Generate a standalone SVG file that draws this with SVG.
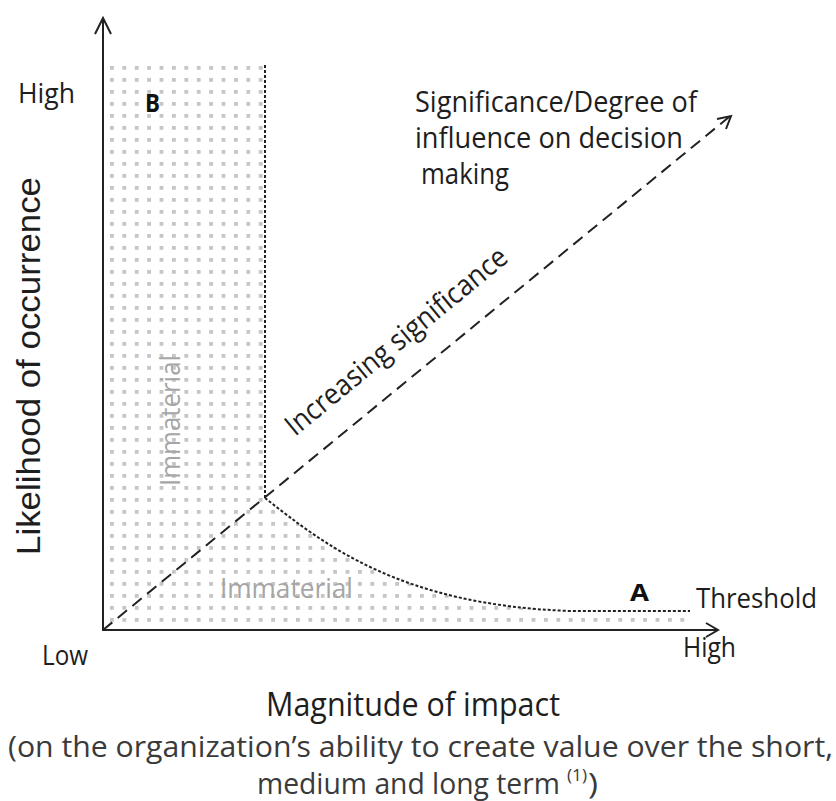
<svg xmlns="http://www.w3.org/2000/svg" width="836" height="801" viewBox="0 0 836 801">
<defs>
<pattern id="dots" patternUnits="userSpaceOnUse" x="110" y="66" width="12.4" height="12" >
<rect x="0" y="0" width="3.8" height="3.8" fill="#c6c6c6"/>
</pattern>
<style>
.lbl{font-family:"Open Sans","Liberation Sans",sans-serif;fill:#1e1e1e;}
.sub{font-family:"Open Sans","Liberation Sans",sans-serif;fill:#3a3a3a;}
.gray{font-family:"Open Sans","Liberation Sans",sans-serif;fill:#a6a6a6;}
.bold{font-family:"Open Sans","Liberation Sans",sans-serif;font-weight:bold;fill:#111;}
.axis{stroke:#222;stroke-width:2;fill:none;}
.dashL{stroke:#222;stroke-width:2;fill:none;stroke-dasharray:12 7;}
.dashS{stroke:#222;stroke-width:2;fill:none;stroke-dasharray:3 2;}
</style>
</defs>
<rect width="836" height="801" fill="#fff"/>

<g id="regions">
<rect x="104" y="65" width="161" height="564" fill="url(#dots)"/>
<path d="M265,498 C325,545 400,605 570,611 L690,611 L690,629 L265,629 Z" fill="url(#dots)"/>
</g>

<g id="connectors">
<line class="axis" x1="103" y1="631" x2="103" y2="18"/>
<polyline class="axis" points="95,34 103,18 111,34"/>
<line class="axis" x1="102" y1="630" x2="718" y2="630"/>
<polyline class="axis" points="706,623 718,630 706,637"/>
<line class="dashL" x1="103" y1="630" x2="729" y2="117"/>
<polyline class="axis" points="717,119 731,116 726,129"/>
<line class="dashS" x1="265" y1="65" x2="265" y2="498"/>
<path class="dashS" d="M265,498 C325,545 400,605 570,611 L690,611" stroke-width="1.7"/>
</g>

<g id="label-y-high"><text class="lbl" x="18" y="103" font-size="28" textLength="57" lengthAdjust="spacingAndGlyphs">High</text></g>
<g id="label-B"><text class="bold" x="145" y="112" font-size="25" textLength="15" lengthAdjust="spacingAndGlyphs">B</text></g>
<g id="label-significance">
<text class="lbl" x="415" y="112" font-size="29" textLength="282" lengthAdjust="spacingAndGlyphs">Significance/Degree of</text>
<text class="lbl" x="415" y="148" font-size="29" textLength="268" lengthAdjust="spacingAndGlyphs">influence on  decision</text>
<text class="lbl" x="421" y="184" font-size="29" textLength="88" lengthAdjust="spacingAndGlyphs">making</text>
</g>
<g id="label-increasing"><text class="lbl" transform="translate(295,437) rotate(-39.4)" x="0" y="0" font-size="29" textLength="278" lengthAdjust="spacingAndGlyphs">Increasing significance</text></g>
<g id="label-immaterial-v"><text class="gray" transform="translate(180,486) rotate(-90)" x="0" y="0" font-size="27" textLength="131" lengthAdjust="spacingAndGlyphs">Immaterial</text></g>
<g id="label-immaterial-h"><text class="gray" x="220" y="598" font-size="27" textLength="133" lengthAdjust="spacingAndGlyphs">Immaterial</text></g>
<g id="label-A"><text class="bold" x="630" y="601" font-size="24" textLength="19" lengthAdjust="spacingAndGlyphs">A</text></g>
<g id="label-threshold"><text class="lbl" x="696" y="608" font-size="28" textLength="121" lengthAdjust="spacingAndGlyphs">Threshold</text></g>
<g id="label-x-high"><text class="lbl" x="683" y="657" font-size="28" textLength="53" lengthAdjust="spacingAndGlyphs">High</text></g>
<g id="label-low"><text class="lbl" x="42" y="665" font-size="28" textLength="46" lengthAdjust="spacingAndGlyphs">Low</text></g>
<g id="label-y-axis"><text transform="translate(40,366) rotate(-90)" x="0" y="0" text-anchor="middle" font-family="Liberation Sans, Arial, sans-serif" font-size="33" fill="#1e1e1e" textLength="378" lengthAdjust="spacingAndGlyphs">Likelihood  of  occurrence</text></g>
<g id="label-x-axis">
<text class="lbl" x="266" y="716" font-size="33" textLength="294" lengthAdjust="spacingAndGlyphs">Magnitude  of impact</text>
<text class="sub" x="8" y="757" font-size="29" textLength="825" lengthAdjust="spacingAndGlyphs">(on the organization’s ability to create value over the short,</text>
<text class="sub" x="257" y="794" font-size="29" textLength="303" lengthAdjust="spacingAndGlyphs">medium and long term</text>
<text class="sub" x="567" y="781" font-size="17" textLength="20" lengthAdjust="spacingAndGlyphs">(1)</text>
<text class="sub" x="588" y="794" font-size="29" textLength="10" lengthAdjust="spacingAndGlyphs">)</text>
</g>
</svg>
